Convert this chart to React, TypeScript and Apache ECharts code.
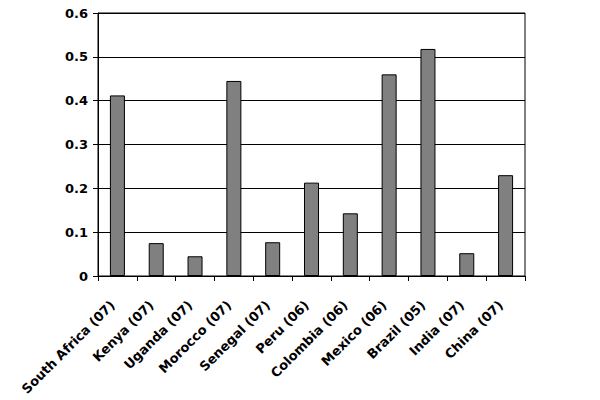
import React, { useEffect, useRef } from "react";
import * as echarts from "echarts";

const categories = [
  "South Africa (07)",
  "Kenya (07)",
  "Uganda (07)",
  "Morocco (07)",
  "Senegal (07)",
  "Peru (06)",
  "Colombia (06)",
  "Mexico (06)",
  "Brazil (05)",
  "India (07)",
  "China (07)",
];
const values = [0.412, 0.075, 0.045, 0.445, 0.077, 0.213, 0.143, 0.46, 0.518, 0.052, 0.23];
const yTicks = [0, 0.1, 0.2, 0.3, 0.4, 0.5, 0.6];

export default function App() {
  const ref = useRef<HTMLDivElement>(null);
  useEffect(() => {
    const chart = echarts.init(ref.current!, undefined, { renderer: "svg" });
    const font = "'DejaVu Sans', sans-serif";
    chart.setOption({
      animation: false,
      grid: {
        left: 98,
        top: 13,
        right: 75,
        bottom: 124,
        show: true,
        borderColor: "#000",
        borderWidth: 1,
        backgroundColor: "transparent",
      },
      xAxis: {
        type: "category",
        data: categories,
        axisLine: { lineStyle: { color: "#000", width: 1 } },
        axisTick: { show: true, length: 5, lineStyle: { color: "#000" } },
        axisLabel: {
          rotate: 45,
          margin: 22,
          padding: [0, 7, 0, 0],
          interval: 0,
          color: "#000",
          fontFamily: font,
          fontWeight: "bold",
          fontSize: 13,
        },
      },
      yAxis: {
        type: "value",
        min: yTicks[0],
        max: yTicks[yTicks.length - 1],
        interval: 0.1,
        axisLine: { show: true, lineStyle: { color: "#000", width: 1 } },
        axisTick: { show: true, length: 5, lineStyle: { color: "#000" } },
        splitLine: { show: true, lineStyle: { color: "#000", width: 1 } },
        axisLabel: {
          margin: 10,
          color: "#000",
          fontFamily: font,
          fontWeight: "bold",
          fontSize: 13,
          formatter: (v: number) => (v === 0 ? "0" : String(Math.round(v * 10) / 10)),
        },
      },
      series: [
        {
          type: "bar",
          data: values,
          barWidth: 15,
          itemStyle: { color: "#808080", borderColor: "#000", borderWidth: 1 },
        },
      ],
    });
    return () => chart.dispose();
  }, []);
  return (
    <div
      ref={ref}
      style={{ position: "absolute", left: 0, top: 0, width: 600, height: 400 }}
    />
  );
}
